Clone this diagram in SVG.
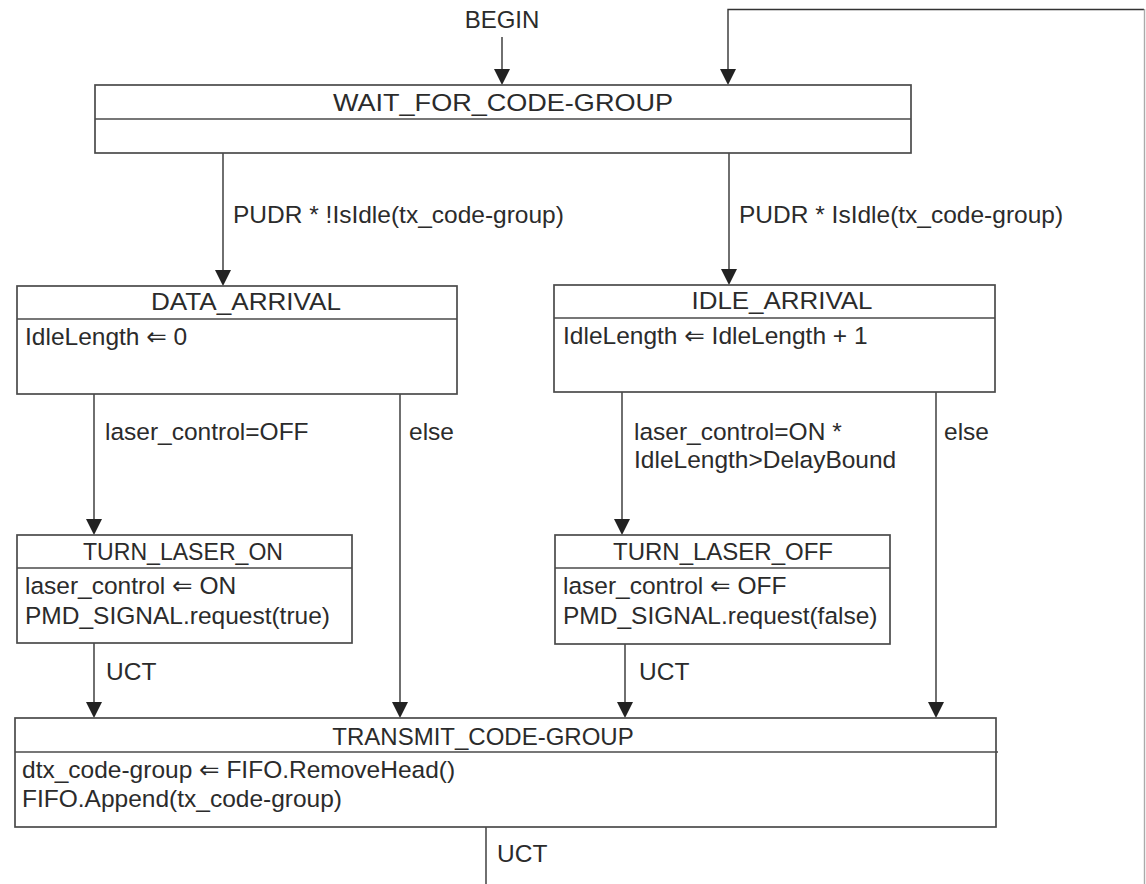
<svg xmlns="http://www.w3.org/2000/svg" width="1146" height="884" viewBox="0 0 1146 884">
<style>
text{font-family:"Liberation Sans",Arial,"DejaVu Sans",sans-serif;font-size:24.5px;fill:#2b2b2b}
.t{text-anchor:middle;font-size:24px}
.box{fill:#fff;stroke:#4a4a4a;stroke-width:1.7}
.div{stroke:#4a4a4a;stroke-width:1.7}
.c{fill:none;stroke:#333;stroke-width:1.4}
</style>
<rect width="1146" height="884" fill="#fff"/>
<g id="connectors">
<line class="c" x1="502" y1="37" x2="502" y2="72"/>
<polyline class="c" points="1144,9.5 728,9.5 728,72"/>
<line x1="1144.5" y1="9" x2="1144.5" y2="884" stroke="#aaa" stroke-width="1.4"/>
<line class="c" x1="223" y1="153" x2="223" y2="273"/>
<line class="c" x1="729" y1="153" x2="729" y2="272"/>
<line class="c" x1="94" y1="394" x2="94" y2="522"/>
<line class="c" x1="400" y1="392" x2="400" y2="705"/>
<line class="c" x1="622" y1="390" x2="622" y2="522"/>
<line class="c" x1="936" y1="392" x2="936" y2="705"/>
<line class="c" x1="94" y1="643" x2="94" y2="705"/>
<line class="c" x1="625" y1="644" x2="625" y2="705"/>
<line class="c" x1="486" y1="827" x2="486" y2="884"/>
<g fill="#222">
<path d="M494,69 L510,69 L502,85 Z"/>
<path d="M720,69 L736,69 L728,85 Z"/>
<path d="M215,270 L231,270 L223,286 Z"/>
<path d="M721,269 L737,269 L729,285 Z"/>
<path d="M86,519 L102,519 L94,535 Z"/>
<path d="M614,519 L630,519 L622,535 Z"/>
<path d="M392,702 L408,702 L400,718 Z"/>
<path d="M928,702 L944,702 L936,718 Z"/>
<path d="M86,702 L102,702 L94,718 Z"/>
<path d="M617,702 L633,702 L625,718 Z"/>
</g>
<text x="502" y="28" class="t">BEGIN</text>
<text x="233" y="223">PUDR * !IsIdle(tx_code-group)</text>
<text x="739" y="223">PUDR * IsIdle(tx_code-group)</text>
<text x="105" y="440">laser_control=OFF</text>
<text x="409" y="440">else</text>
<text x="634" y="440">laser_control=ON *</text>
<text x="634" y="468">IdleLength&gt;DelayBound</text>
<text x="944" y="440">else</text>
<text x="106" y="680">UCT</text>
<text x="639" y="680">UCT</text>
<text x="497" y="862">UCT</text>
</g>
<g id="wait">
<rect class="box" x="95" y="85" width="816" height="68"/>
<line class="div" x1="95" y1="119" x2="911" y2="119"/>
<text x="503" y="111" class="t" textLength="340" lengthAdjust="spacingAndGlyphs">WAIT_FOR_CODE-GROUP</text>
</g>
<g id="data_arrival">
<rect class="box" x="17" y="286" width="440" height="108"/>
<line class="div" x1="17" y1="319" x2="457" y2="319"/>
<text x="246" y="310" class="t" textLength="190" lengthAdjust="spacingAndGlyphs">DATA_ARRIVAL</text>
<text x="25" y="345">IdleLength ⇐ 0</text>
</g>
<g id="idle_arrival">
<rect class="box" x="554" y="285" width="441" height="107"/>
<line class="div" x1="554" y1="318" x2="995" y2="318"/>
<text x="782" y="309" class="t" textLength="181" lengthAdjust="spacingAndGlyphs">IDLE_ARRIVAL</text>
<text x="563" y="344">IdleLength ⇐ IdleLength + 1</text>
</g>
<g id="turn_laser_on">
<rect class="box" x="17" y="535" width="335" height="108"/>
<line class="div" x1="17" y1="568" x2="352" y2="568"/>
<text x="183" y="560" class="t" textLength="200" lengthAdjust="spacingAndGlyphs">TURN_LASER_ON</text>
<text x="25" y="594">laser_control ⇐ ON</text>
<text x="25" y="624">PMD_SIGNAL.request(true)</text>
</g>
<g id="turn_laser_off">
<rect class="box" x="555" y="535" width="335" height="109"/>
<line class="div" x1="555" y1="568" x2="890" y2="568"/>
<text x="723" y="560" class="t">TURN_LASER_OFF</text>
<text x="563" y="594">laser_control ⇐ OFF</text>
<text x="563" y="624">PMD_SIGNAL.request(false)</text>
</g>
<g id="transmit">
<rect class="box" x="15" y="718" width="981" height="109"/>
<line class="div" x1="15" y1="752" x2="998" y2="752"/>
<text x="483" y="745" class="t">TRANSMIT_CODE-GROUP</text>
<text x="22" y="778">dtx_code-group ⇐ FIFO.RemoveHead()</text>
<text x="22" y="807">FIFO.Append(tx_code-group)</text>
</g>
</svg>
